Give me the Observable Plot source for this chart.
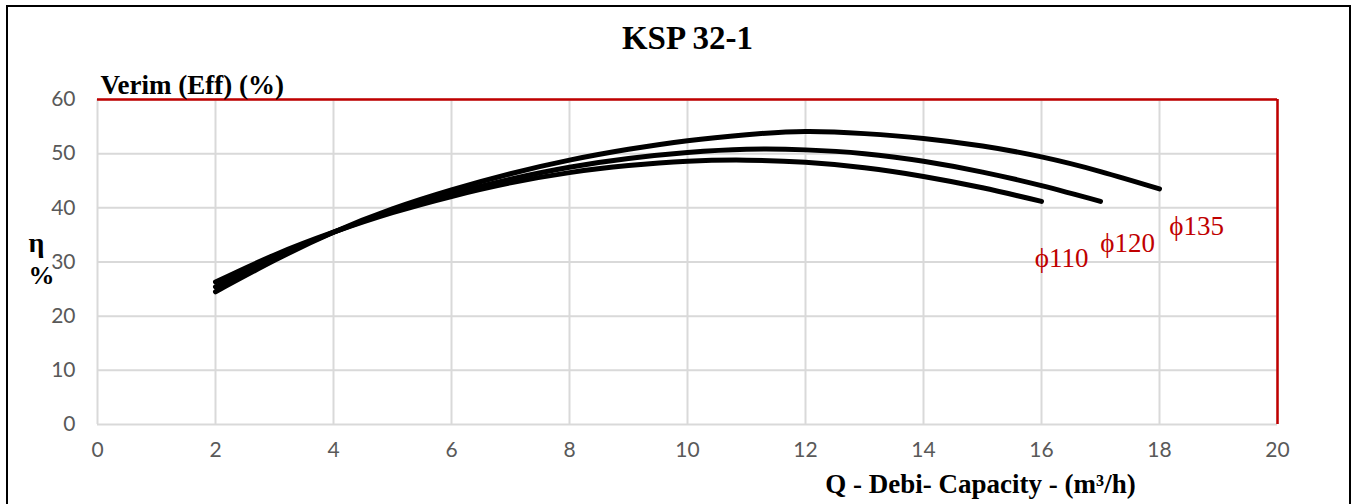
<!DOCTYPE html>
<html><head><meta charset="utf-8">
<script src="https://cdn.jsdelivr.net/npm/d3@7"></script>
<script src="https://cdn.jsdelivr.net/npm/@observablehq/plot@0.6"></script>
<style>
body{margin:0;background:#fff;overflow:hidden;}
#frame{position:absolute;left:6px;top:5px;width:1341px;height:520px;border:2px solid #000;pointer-events:none;}
#chart{position:absolute;left:0;top:0;}
</style></head><body>
<div id="chart"></div><div id="frame"></div>
<script>
const title = "KSP 32-1";
const yTitle = "Verim (Eff) (%)";
const xTitle = "Q - Debi- Capacity - (m³/h)";
const xTicks = [0,2,4,6,8,10,12,14,16,18,20];
const yTicks = [0,10,20,30,40,50,60];

const q135 = [2,3,4,5,6,7,8,9,10,11,12,13,14,15,16,17,18];
const eff135 = [24.5,30.3,35.5,39.8,43.3,46.3,48.8,50.8,52.4,53.5,54.1,53.7,52.8,51.4,49.4,46.7,43.5];
const q120 = [2,3,4,5,6,7,8,9,10,11,12,13,14,15,16,17];
const eff120 = [25.4,30.8,35.5,39.4,42.6,45.3,47.5,49.1,50.2,50.8,50.7,50.0,48.6,46.6,44.1,41.2];
const q110 = [2,3,4,5,6,7,8,9,10,11,12,13,14,15,16];
const eff110 = [26.3,31.3,35.5,39.1,42.1,44.6,46.5,47.8,48.6,48.8,48.4,47.4,45.8,43.7,41.2];

const labelText = ["ϕ110","ϕ120","ϕ135"];
const labelQ = [16.34, 17.46, 18.63];
const labelEff = [30.6, 33.4, 36.5];

const series = [
  {name:"ϕ135", q:q135, e:eff135},
  {name:"ϕ120", q:q120, e:eff120},
  {name:"ϕ110", q:q110, e:eff110}
];
const data = series.flatMap(s => s.q.map((q,i)=>({d:s.name, q, eff:s.e[i]})));
const labels = labelText.map((t,i)=>({t, q:labelQ[i], eff:labelEff[i]}));

const tickFont = "Lato, 'Open Sans', sans-serif";
const serif = "'Liberation Serif', 'DejaVu Serif', serif";

const plot = Plot.plot({
  width: 1354, height: 504,
  marginLeft: 97, marginRight: 77, marginTop: 99, marginBottom: 80,
  style: {background:"transparent", fontFamily: tickFont, fontSize: "21px", color:"#595959", overflow:"visible"},
  x: {domain:[0,20], ticks: xTicks, label: null},
  y: {domain:[0,60], ticks: yTicks, label: null},
  marks: [
    Plot.gridX(xTicks, {stroke:"#d9d9d9", strokeOpacity:1, strokeWidth:2}),
    Plot.gridY(yTicks, {stroke:"#d9d9d9", strokeOpacity:1, strokeWidth:2}),
    Plot.axisX({ticks: xTicks, tickSize:0, tickPadding:18, fontSize:21, fill:"#595959", label:null}),
    Plot.axisY({ticks: yTicks, tickSize:0, tickPadding:22, fontSize:21, fill:"#595959", label:null}),
    Plot.ruleY([60], {stroke:"#c00000", strokeWidth:2.5}),
    Plot.ruleX([20], {stroke:"#c00000", strokeWidth:2.5}),
    Plot.line(data, {x:"q", y:"eff", z:"d", stroke:"#000", strokeWidth:5, curve:"natural"}),
    Plot.text(labels, {x:"q", y:"eff", text:"t", fill:"#c00000", fontSize:27, fontFamily:serif, lineAnchor:"middle"}),
    Plot.text([title], {frameAnchor:"top", lineAnchor:"middle", dy:-61, fontSize:33, fontWeight:"bold", fontFamily:serif, fill:"#000", text:d=>d}),
    Plot.text([yTitle], {frameAnchor:"top-left", lineAnchor:"middle", dx:3, dy:-14, textAnchor:"start", fontSize:27, fontWeight:"bold", fontFamily:serif, fill:"#000", text:d=>d}),
    Plot.text([xTitle], {frameAnchor:"bottom", lineAnchor:"middle", dx:293, dy:60, textAnchor:"middle", fontSize:27, fontWeight:"bold", fontFamily:serif, fill:"#000", text:d=>d}),
    Plot.text(["η"], {frameAnchor:"left", lineAnchor:"middle", dx:-69, dy:-19, fontSize:28, fontWeight:"bold", fontFamily:serif, fill:"#000", text:d=>d}),
    Plot.text(["%"], {frameAnchor:"left", lineAnchor:"middle", dx:-69, dy:14, fontSize:26, fontWeight:"bold", fontFamily:serif, fill:"#000", text:d=>d})
  ]
});
document.getElementById("chart").appendChild(plot);
</script>
</body></html>
